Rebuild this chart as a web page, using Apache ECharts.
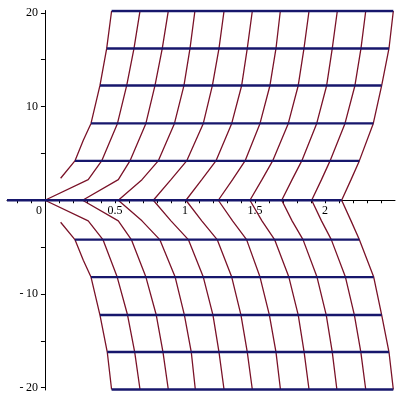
<!DOCTYPE html>
<html>
<head>
<meta charset="utf-8">
<script src="https://cdn.jsdelivr.net/npm/echarts@6/dist/echarts.min.js"></script>
<style>html,body{margin:0;padding:0;background:#fff}#c{width:400px;height:400px}</style>
</head>
<body>
<div id="c"></div>
<script>
// ---- data ----
// Red curves A..J: x positions at given heights (upper half)
const xAt0   = [0.000, 0.269, 0.524, 0.774, 1.007, 1.238, 1.464, 1.691, 1.905, 2.119];
const xAtP2  = [0.309, 0.524, 0.693, 0.900, 1.120, 1.340, 1.550, 1.765, 1.975, 2.186];
const xAtP4  = [0.405, 0.607, 0.809, 1.012, 1.221, 1.429, 1.626, 1.834, 2.036, 2.245];
const xAtP8  = [0.518, 0.721, 0.925, 1.131, 1.334, 1.536, 1.738, 1.941, 2.143, 2.345];
const xAtP12 = [0.584, 0.786, 0.993, 1.196, 1.405, 1.607, 1.809, 2.012, 2.214, 2.405];
const xAtP16 = [0.636, 0.838, 1.036, 1.243, 1.445, 1.650, 1.850, 2.052, 2.257, 2.457];
const xAtP20 = [0.679, 0.881, 1.071, 1.279, 1.481, 1.681, 1.886, 2.088, 2.291, 2.488];
// lower half
const xAtM2  = [0.309, 0.524, 0.693, 0.900, 1.120, 1.340, 1.550, 1.765, 1.975, 2.186];
const xAtM4  = [0.414, 0.617, 0.820, 1.024, 1.230, 1.440, 1.640, 1.843, 2.045, 2.245];
const xAtM8  = [0.516, 0.721, 0.930, 1.131, 1.334, 1.536, 1.742, 1.943, 2.146, 2.348];
const xAtM12 = [0.590, 0.795, 0.996, 1.200, 1.400, 1.603, 1.809, 2.009, 2.210, 2.405];
const xAtM16 = [0.641, 0.843, 1.045, 1.243, 1.445, 1.650, 1.851, 2.052, 2.256, 2.457];
const xAtM20 = [0.679, 0.881, 1.074, 1.279, 1.481, 1.682, 1.886, 2.085, 2.291, 2.488];
const yKink = 2.2;
const yLevels = [4.2, 8.2, 12.25, 16.2, 20.2];
// Leftmost red curve (does not reach the axis)
const curveLUpX = [0.112, 0.214, 0.274, 0.329, 0.393, 0.441, 0.476];
const curveLUpY = [2.35, 4.2, 6.4, 8.2, 12.25, 16.2, 20.2];
const curveLDnX = [0.112, 0.214, 0.274, 0.329, 0.393, 0.445, 0.476];
const curveLDnY = [-2.35, -4.2, -6.4, -8.2, -12.25, -16.2, -20.2];
// Blue horizontal lines
const blueY    = [-20.2, -16.2, -12.25, -8.2, -4.2, 0, 4.2, 8.2, 12.25, 16.2, 20.2];
const blueFrom = [0.476, 0.445, 0.393, 0.329, 0.214, -0.271, 0.214, 0.329, 0.393, 0.441, 0.476];
const blueTo   = [2.488, 2.457, 2.405, 2.348, 2.245, 2.119, 2.245, 2.345, 2.405, 2.457, 2.488];
// axis ticks and labels
const xTickValues = [-0.2,-0.1,0,0.1,0.2,0.3,0.4,0.5,0.6,0.7,0.8,0.9,1,1.1,1.2,1.3,1.4,1.5,1.6,1.7,1.8,1.9,2,2.1,2.2,2.3,2.4];
const xLabelValues = [0, 0.5, 1, 1.5, 2];
const yTickValues = [-20,-15,-10,-5,5,10,15,20];
const yLabelValues = [-20, -10, 10, 20];

// ---- build series ----
const RED = '#7a1228', BLUE = '#17176c';
const series = [];
function line(data, color, width, z) {
  series.push({type:'line', data, showSymbol:false, symbol:'none', silent:true,
    lineStyle:{color, width}, z, animation:false});
}
const upLists = [xAtP4, xAtP8, xAtP12, xAtP16, xAtP20];
const dnLists = [xAtM4, xAtM8, xAtM12, xAtM16, xAtM20];
for (let i = 0; i < xAt0.length; i++) {
  const pts = [];
  for (let k = dnLists.length - 1; k >= 0; k--) pts.push([dnLists[k][i], -yLevels[k]]);
  pts.push([xAtM2[i], -yKink], [xAt0[i], 0], [xAtP2[i], yKink]);
  upLists.forEach((arr, k) => pts.push([arr[i], yLevels[k]]));
  line(pts, RED, 1.3, 2);
}
line(curveLUpX.map((x, k) => [x, curveLUpY[k]]), RED, 1.3, 2);
line(curveLDnX.map((x, k) => [x, curveLDnY[k]]), RED, 1.3, 2);
blueY.forEach((y, k) => line([[blueFrom[k], y], [blueTo[k], y]], BLUE, 2.4, 3));

// grid geometry (pixels)
const G = {left:7, right:5, top:10.5, bottom:10};
const xMin = -0.271, xMax = 2.5, yMin = -20.25, yMax = 20.25;
const plotW = 400 - G.left - G.right, plotH = 400 - G.top - G.bottom;
const zeroXpx = (0 - xMin) / (xMax - xMin) * plotW;          // from left edge of grid
const zeroYpx = (yMax - 0) / (yMax - yMin) * plotH;          // from top edge of grid

const FONT = 'Liberation Serif';
const chart = echarts.init(document.getElementById('c'), null, {renderer:'canvas'});
chart.setOption({
  animation:false,
  backgroundColor:'#fff',
  grid:{left:G.left, right:G.right, top:G.top, bottom:G.bottom, containLabel:false},
  xAxis:{type:'value', min:xMin, max:xMax, position:'bottom', offset:-(plotH - zeroYpx),
    axisLine:{onZero:false, lineStyle:{color:'#000', width:1}},
    axisTick:{show:true, length:3, customValues:xTickValues, lineStyle:{color:'#000'}},
    axisLabel:{customValues:xLabelValues, margin:5, color:'#000', fontFamily:FONT, fontSize:12,
      formatter:v => v === 0 ? '{z|0}' : String(v),
      rich:{z:{padding:[0,12,0,0], fontFamily:FONT, fontSize:12, color:'#000'}}},
    splitLine:{show:false}},
  yAxis:{type:'value', min:yMin, max:yMax, position:'left', offset:-zeroXpx,
    axisLine:{onZero:false, lineStyle:{color:'#000', width:1}},
    axisTick:{show:true, length:4, customValues:yTickValues, lineStyle:{color:'#000'}},
    axisLabel:{customValues:yLabelValues, margin:7, color:'#000', fontFamily:FONT, fontSize:12,
      formatter:v => v < 0 ? '-\u2009' + (-v) : String(v)},
    splitLine:{show:false}},
  series
});
</script>
</body>
</html>
